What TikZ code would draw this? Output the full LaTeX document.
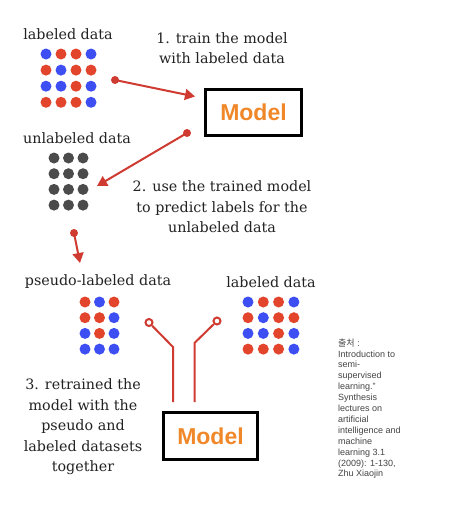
\documentclass[tikz,border=0pt]{standalone}
\usepackage{fontspec}
\setmainfont{DejaVu Serif}
\newfontfamily\modelfont{Liberation Sans}
\newfontfamily\citefont{Liberation Sans}
\newfontfamily\krfont{Noto Sans CJK KR}
\usetikzlibrary{arrows.meta}
\definecolor{dred}{HTML}{E2452B}
\definecolor{dblue}{HTML}{3D4EF2}
\definecolor{dgray}{HTML}{4B4B4B}
\definecolor{arrred}{HTML}{CF3B31}
\definecolor{morange}{HTML}{F0882A}
\definecolor{txt}{HTML}{222222}
\definecolor{cite}{HTML}{444444}
\begin{document}
\begin{tikzpicture}[x=1pt,y=-1pt,
 dot/.style={circle,inner sep=0pt,minimum size=11pt},
 R/.style={dot,fill=dred}, B/.style={dot,fill=dblue}, G/.style={dot,fill=dgray},
 lbl/.style={font=\fontsize{14.3}{20.5}\selectfont, align=center, text=txt, inner sep=0pt},
 modelbox/.style={draw=black,line width=3pt,minimum width=96pt,minimum height=46pt,
   font=\modelfont\bfseries\fontsize{23}{23}\selectfont,text=morange},
 arr/.style={draw=arrred,line width=2pt,-{Triangle[length=10pt,width=11pt]}},
 enddot/.style={circle,fill=arrred,inner sep=0pt,minimum size=8pt},
 ring/.style={circle,draw=arrred,line width=2pt,inner sep=0pt,minimum size=7pt},
 wire/.style={draw=arrred,line width=2pt}]
\useasboundingbox[fill=white] (0,0) rectangle (461,507);

% labels
\node[lbl] (tl) at (68,34) {labeled data};
\node[lbl] (t1) at (222,48) {1. train the model\\with labeled data};
\node[lbl] (tu) at (77,138) {unlabeled data};
\node[lbl] (t2) at (222,207) {2. use the trained model\\to predict labels for the\\unlabeled data};
\node[lbl] (tp) at (98,282) {pseudo-labeled data};
\node[lbl] (tl2) at (271,282) {labeled data};
\node[lbl] (t3) at (83,427) {3. retrained the\\model with the\\pseudo and\\labeled datasets\\together};

% labeled data grid (top)
\foreach \c [count=\i from 0] in {B,R,R,B, R,B,R,R, B,B,R,B, R,R,R,B}{
  \pgfmathtruncatemacro\col{mod(\i,4)}
  \pgfmathtruncatemacro\row{\i/4}
  \node[\c] (L\i) at (46+15*\col,54+16.1*\row) {};
}
% unlabeled grid
\foreach \i in {0,...,11}{
  \pgfmathtruncatemacro\col{mod(\i,3)}
  \pgfmathtruncatemacro\row{\i/3}
  \node[G] (U\i) at (54+14.5*\col,158+15.7*\row) {};
}
% pseudo-labeled grid
\foreach \c [count=\i from 0] in {R,B,R, R,R,B, B,R,B, B,B,B}{
  \pgfmathtruncatemacro\col{mod(\i,3)}
  \pgfmathtruncatemacro\row{\i/3}
  \node[\c] (P\i) at (85+14.5*\col,302+15.7*\row) {};
}
% labeled grid (right)
\foreach \c [count=\i from 0] in {B,R,R,B, R,B,R,R, B,B,R,B, R,R,R,B}{
  \pgfmathtruncatemacro\col{mod(\i,4)}
  \pgfmathtruncatemacro\row{\i/4}
  \node[\c] (M\i) at (248+15.3*\col,302+15.7*\row) {};
}

% model boxes
\node[modelbox] (m1) at (253.5,112.5) {Model};
\node[modelbox,minimum width=94pt,minimum height=47pt] (m2) at (210.5,436) {Model};

% arrows
\node[enddot] (s1) at (115,80) {};
\coordinate (e1) at (195,96.5);
\draw[arr] (s1.center) -- (e1);
\node[enddot] (s2) at (187,133) {};
\coordinate (e2) at (97,186);
\draw[arr] (s2.center) -- (e2);
\node[enddot] (s3) at (74,233) {};
\coordinate (e3) at (80,263);
\draw[arr] (s3.center) -- (e3);

% wires
\node[ring] (r1) at (149,322.5) {};
\coordinate (b1) at (173,347);
\coordinate (w1) at (173,402);
\draw[wire] (r1) -- (b1) -- (w1);
\node[ring] (r2) at (217,321) {};
\coordinate (b2) at (194.5,343);
\coordinate (w2) at (194.5,402);
\draw[wire] (r2) -- (b2) -- (w2);

% citation
\node[anchor=north west,align=left,inner sep=0pt,text=cite,
  font=\citefont\fontsize{9}{10.9}\selectfont] (c) at (338,338.5)
 {{\krfont 출처} :\\Introduction to\\semi-\\supervised\\learning.”\\Synthesis\\lectures on\\artificial\\intelligence and\\machine\\learning 3.1\\(2009): 1-130,\\Zhu Xiaojin};
\end{tikzpicture}
\end{document}
